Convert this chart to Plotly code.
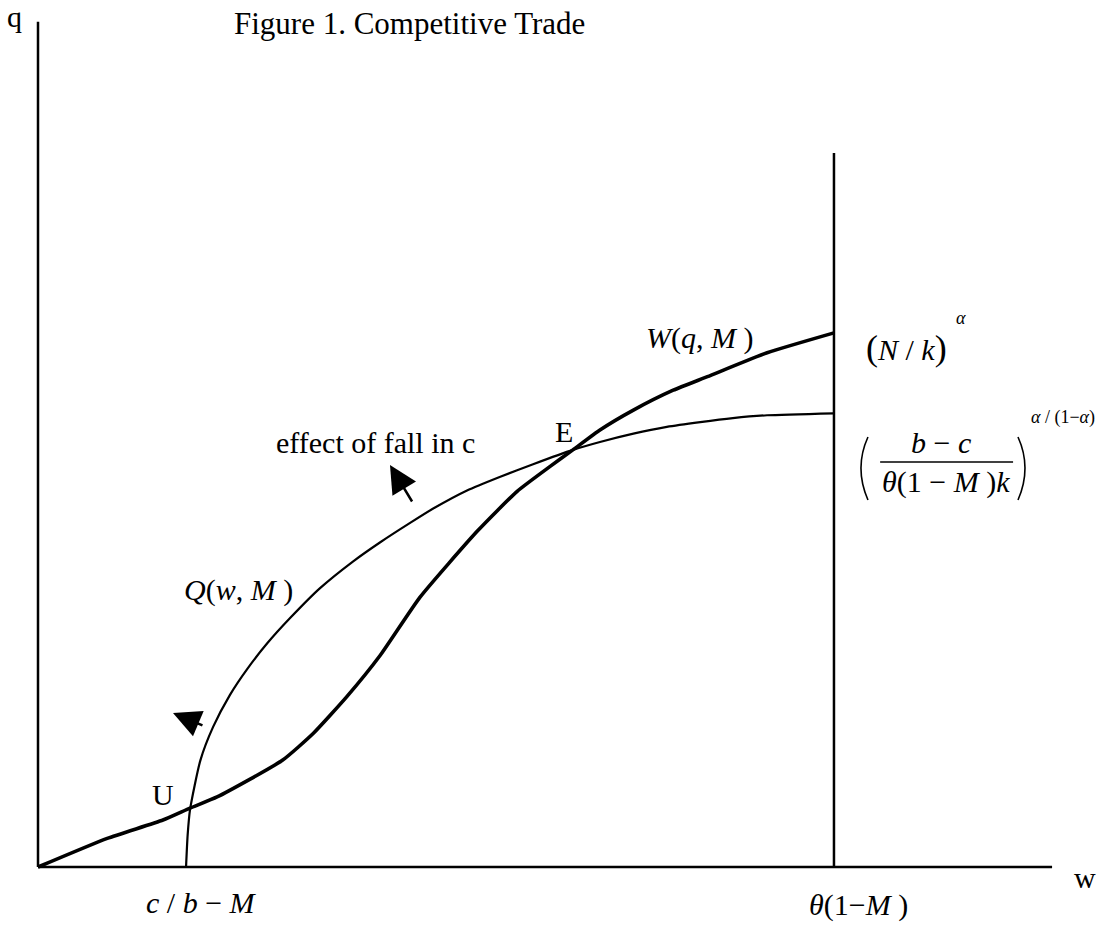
import plotly.graph_objects as go

# W(q, M) curve (thick)
w_curve_x = [0.0, 0.87, 1.57, 1.91, 2.25, 3.07, 3.46, 3.88, 4.30, 4.80, 5.52, 6.02, 6.43, 6.72, 7.06, 7.48, 7.98, 8.41, 9.16, 10.0]
w_curve_y = [0.0, 0.36, 0.59, 0.74, 0.88, 1.34, 1.68, 2.14, 2.66, 3.39, 4.22, 4.72, 5.03, 5.24, 5.49, 5.74, 5.99, 6.16, 6.46, 6.71]

# Q(w, M) curve (thin)
q_curve_x = [1.86, 1.88, 1.91, 2.04, 2.20, 2.41, 2.63, 2.88, 3.17, 3.54, 3.96, 4.30, 4.67, 4.96, 5.39,
             5.80, 6.22, 6.72, 7.06, 7.48, 7.90, 8.32, 8.73, 9.16, 10.0]
q_curve_y = [0.0, 0.40, 0.72, 1.34, 1.76, 2.16, 2.49, 2.81, 3.13, 3.50, 3.84, 4.08, 4.32, 4.50, 4.73,
             4.90, 5.06, 5.24, 5.34, 5.445, 5.53, 5.59, 5.64, 5.675, 5.70]

w_max = 10.0          # theta(1-M)
cap_top = 8.97        # top of the vertical line at w_max
q_axis_top = 10.62
w_axis_end = 12.74

FONT = "Liberation Serif, Times New Roman, serif"

fig = go.Figure()

fig.add_trace(go.Scatter(x=q_curve_x, y=q_curve_y, mode="lines",
                         line=dict(color="black", width=2.2, shape="spline", smoothing=0.6),
                         hoverinfo="skip"))
fig.add_trace(go.Scatter(x=w_curve_x, y=w_curve_y, mode="lines",
                         line=dict(color="black", width=3.6, shape="spline", smoothing=0.5),
                         hoverinfo="skip"))

# axes and the capacity line
fig.add_shape(type="line", x0=0, y0=0, x1=0, y1=q_axis_top, line=dict(color="black", width=2.5))
fig.add_shape(type="line", x0=0, y0=0, x1=w_axis_end, y1=0, line=dict(color="black", width=2.5))
fig.add_shape(type="line", x0=w_max, y0=0, x1=w_max, y1=cap_top, line=dict(color="black", width=2.5))

# fraction bar and tall brackets of the second label
fig.add_shape(type="line", x0=10.58, y0=5.088, x1=12.25, y1=5.088, line=dict(color="black", width=1.5))
fig.add_shape(type="path", path="M 10.427,5.402 Q 10.251,5.013 10.427,4.611",
              line=dict(color="black", width=1.6))
fig.add_shape(type="path", path="M 12.312,5.402 Q 12.488,5.013 12.312,4.611",
              line=dict(color="black", width=1.6))


def label(x, y, text, size=30, xanchor="center"):
    fig.add_annotation(x=x, y=y, text=text, showarrow=False, xanchor=xanchor, yanchor="middle",
                       font=dict(family=FONT, size=size, color="black"))


label(2.437, 10.60, "Figure 1. Competitive Trade", size=31, xanchor="left")
label(-0.29, 10.69, "q")
label(13.153, -0.138, "w")
label(2.06, -0.44, "<i>c</i> / <i>b</i> − <i>M</i>")
label(10.302, -0.477, "<i>θ</i>(1−<i>M</i> )")
label(1.57, 0.917, "U")
label(6.608, 5.465, "E")
label(4.24, 5.327, "effect of fall in c")
label(2.513, 3.48, "<i>Q</i>(<i>w</i>, <i>M</i> )")
label(8.317, 6.646, "<i>W</i>(<i>q</i>, <i>M</i> )")
label(10.917, 6.52, "<span style='font-size:36px'>(</span><i>N</i> / <i>k</i><span style='font-size:36px'>)</span>")
label(11.595, 6.897, "<i>α</i>", size=18)
label(11.344, 5.327, "<i>b</i> − <i>c</i>")
label(11.407, 4.837, "<i>θ</i>(1 − <i>M</i> )<i>k</i>")
label(12.877, 5.653, "<i>α</i> / (1−<i>α</i>)", size=18)

# arrows: effect of fall in c
for tip, tail in [((4.422, 5.05), (4.711, 4.573)), ((1.696, 1.935), (2.085, 1.771))]:
    fig.add_annotation(x=tip[0], y=tip[1], ax=tail[0], ay=tail[1], axref="x", ayref="y",
                       text="", showarrow=True, arrowhead=2, arrowsize=2.2, arrowwidth=2.5,
                       arrowcolor="black", standoff=0)

# origin sits at (38, 867) px, 79.6 px per unit on both axes
fig.update_xaxes(range=[-0.4774, 13.405], visible=False, fixedrange=True)
fig.update_yaxes(range=[-0.7412, 10.892], visible=False, fixedrange=True)
fig.update_layout(width=1105, height=926, margin=dict(l=0, r=0, t=0, b=0),
                  plot_bgcolor="white", paper_bgcolor="white", showlegend=False)

# drop the default body margin so the figure fills the window
fig.write_html("out.html", config={"displayModeBar": False},
               post_script="document.body.style.margin='0';")
